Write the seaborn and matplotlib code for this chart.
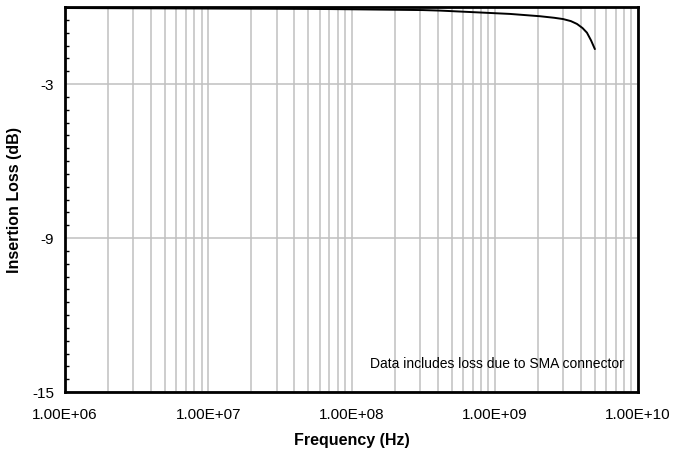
import matplotlib
matplotlib.use("Agg")
import matplotlib.pyplot as plt
import matplotlib.ticker as mticker
import seaborn as sns
import pandas as pd
import numpy as np

freq_hz = [1.0e6, 3.0e6, 1.0e7, 3.0e7, 7.1e7, 1.5e8, 3.16e8, 4.15e8, 7.0e8,
           1.28e9, 2.07e9, 2.6e9, 3.0e9, 3.4e9, 3.75e9, 4.1e9, 4.4e9, 4.7e9, 5.0e9]
loss_db = [-0.04, -0.05, -0.06, -0.07, -0.08, -0.10, -0.12, -0.14, -0.20,
           -0.27, -0.36, -0.42, -0.47, -0.55, -0.66, -0.82, -1.0, -1.3, -1.64]
x_tick_labels = ["1.00E+06", "1.00E+07", "1.00E+08", "1.00E+09", "1.00E+10"]
y_ticks = [-15, -9, -3]

sns.set_style("white")
plt.rcParams['font.family'] = ['Liberation Sans', 'DejaVu Sans']
plt.rcParams['axes.unicode_minus'] = False
plt.rcParams['text.color'] = 'black'
plt.rcParams['axes.labelcolor'] = 'black'
plt.rcParams['xtick.color'] = 'black'
plt.rcParams['ytick.color'] = 'black'

df = pd.DataFrame({"Frequency (Hz)": freq_hz, "Insertion Loss (dB)": loss_db})

fig = plt.figure(figsize=(6.73, 4.56), dpi=100)
ax = fig.add_axes([65/673, 1-393/456, (638-65)/673, (393-8)/456])

sns.lineplot(data=df, x="Frequency (Hz)", y="Insertion Loss (dB)", ax=ax,
             color="black", linewidth=1.4, zorder=3)

ax.set_xscale("log")
ax.set_xlim(1e6, 1e10)
ax.set_ylim(-15, 0)

ax.xaxis.set_major_locator(mticker.FixedLocator([1e6, 1e7, 1e8, 1e9, 1e10]))
ax.xaxis.set_major_formatter(mticker.FixedFormatter(x_tick_labels))
ax.xaxis.set_minor_locator(mticker.LogLocator(base=10, subs=np.arange(2, 10)))
ax.xaxis.set_minor_formatter(mticker.NullFormatter())
ax.yaxis.set_major_locator(mticker.FixedLocator(y_ticks))
ax.yaxis.set_minor_locator(mticker.MultipleLocator(0.5))

ax.grid(True, which="both", axis="x", color="#c0c0c0", linewidth=1.1)
ax.grid(True, which="major", axis="y", color="#c0c0c0", linewidth=1.1)
ax.set_axisbelow(True)

ax.tick_params(axis="x", which="both", length=0, labelsize=11, pad=11, labelcolor="black")
ax.tick_params(axis="y", which="major", length=0, labelsize=11, pad=8, labelcolor="black")
ax.tick_params(axis="y", which="minor", direction="in", length=3, width=1,
               color="black", left=True)

for s in ax.spines.values():
    s.set_visible(True)
    s.set_color("black")
    s.set_linewidth(2)

ax.set_xlabel("Frequency (Hz)", fontsize=11.5, fontweight="bold", labelpad=8, color="black")
ax.set_ylabel("Insertion Loss (dB)", fontsize=11.5, fontweight="bold",
              va="center", ha="center", color="black")
ax.yaxis.set_label_coords(-0.089, 0.5)

ax.text(0.754, 0.075, "Data includes loss due to SMA connector", transform=ax.transAxes,
        ha="center", va="center", fontsize=10, color="black")

fig.savefig("out.png", dpi=100)
